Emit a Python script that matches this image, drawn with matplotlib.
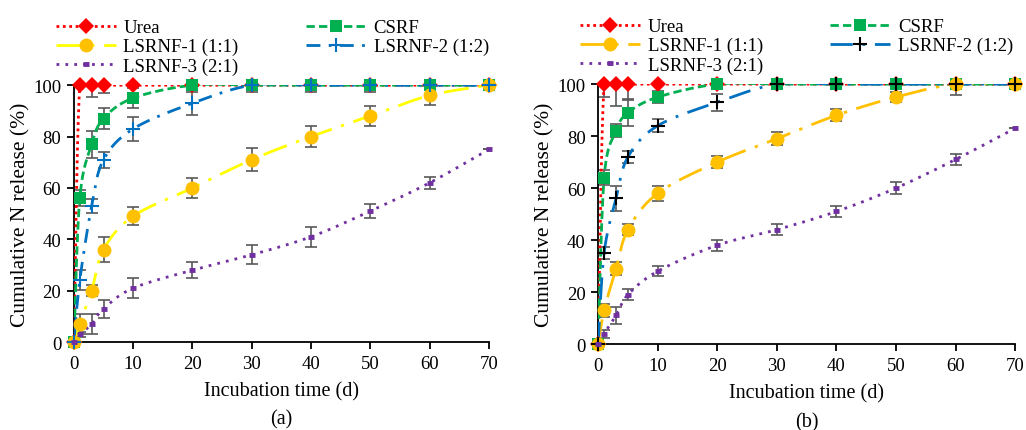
import numpy as np
import matplotlib
matplotlib.use("Agg")
import matplotlib.pyplot as plt
from matplotlib.lines import Line2D

plt.rcParams['font.family'] = ['Liberation Serif', 'DejaVu Serif']

days = [0, 1, 3, 5, 10, 20, 30, 40, 50, 60, 70]

# panel (a)
urea_a = [0, 100, 100, 100, 100, 100, 100, 100, 100, 100, 100]
urea_a_err = [0, 0, 4.6, 3, 0, 0, 0, 0, 0, 0, 0]
csrf_a = [0, 56, 77, 87, 95, 100, 100, 100, 100, 100, 100]
csrf_a_err = [0, 3.2, 5.2, 4.2, 4, 2, 2.5, 2.5, 2.5, 2, 0]
l1_a = [0, 7, 20, 36, 49, 60, 71, 80, 88, 96, 100]
l1_a_err = [0, 4, 2.2, 5, 3.4, 3.8, 4.4, 4.1, 4, 3.8, 0]
l2_a = [0, 24, 53, 71, 83, 93, 100, 100, 100, 100, 100]
l2_a_err = [0, 3.9, 2.6, 3.1, 4.8, 4.5, 2, 2, 2, 2, 0]
l3_a = [0, 3, 7, 13, 21, 28, 34, 41, 51, 62, 75]
l3_a_err = [0, 1, 4, 3.5, 4, 3.2, 3.7, 3.9, 2.6, 2.3, 0]

# panel (b)
urea_b = [0, 100, 100, 100, 100, 100, 100, 100, 100, 100, 100]
urea_b_err = [0, 5, 8.3, 6, 0, 0, 0, 0, 0, 0, 0]
csrf_b = [0, 64, 82, 89, 95, 100, 100, 100, 100, 100, 100]
csrf_b_err = [0, 3, 2.5, 5.1, 2.3, 2, 2, 2, 2, 2, 0]
l1_b = [0, 13, 29, 44, 58, 70, 79, 88, 95, 100, 100]
l1_b_err = [0, 2.5, 2.5, 2.2, 2.9, 2.2, 2.4, 2.3, 2, 4, 0]
l2_b = [0, 35, 56, 72, 84, 93, 100, 100, 100, 100, 100]
l2_b_err = [0, 2.2, 4.8, 2.2, 2.6, 3.2, 2, 2, 2, 2, 0]
l3_b = [0, 4, 11, 19, 28, 38, 44, 51, 60, 71, 83]
l3_b_err = [0, 1.5, 3.2, 2.2, 2, 2.2, 2, 2, 2.3, 2.3, 0]

labels = ["Urea", "CSRF", "LSRNF-1 (1:1)", "LSRNF-2 (1:2)", "LSRNF-3 (2:1)"]


def smooth(x, y, n=30):
    # excel-like smoothed line (catmull-rom bezier)
    p = np.column_stack([x, y]).astype(float)
    p = np.vstack([p[0], p, p[-1]])
    out = []
    t = np.linspace(0, 1, n)[:, None]
    for i in range(1, len(p) - 2):
        p0, p1, p2, p3 = p[i - 1], p[i], p[i + 1], p[i + 2]
        c1 = p1 + (p2 - p0) / 6
        c2 = p2 - (p3 - p1) / 6
        seg = (1 - t) ** 3 * p1 + 3 * (1 - t) ** 2 * t * c1 + 3 * (1 - t) * t ** 2 * c2 + t ** 3 * p2
        out.append(seg)
    out = np.vstack(out)
    return out[:, 0], out[:, 1]


fig = plt.figure(figsize=(10.26, 4.31), dpi=100)
ax_a = fig.add_axes([0.072, 0.204, 0.4045, 0.596])
ax_b = fig.add_axes([0.583, 0.1995, 0.4064, 0.603])

green = "#00B050"
blue = "#0070C0"
purple = "#7030A0"
gold = "#FFC000"


def panel(ax, data, l1_line, l2_marker_col, l2_dash, tag):
    styles = [
        dict(color="red", dashes=(1, 1.3), lw=2.0, marker="D", mfc="red", mec="red", ms=8.5, mew=0),
        dict(color=green, dashes=(3, 1.5), lw=2.0, marker="s", mfc=green, mec=green, ms=9, mew=0),
        dict(color=l1_line, dashes=(9, 3.5, 1.2, 3.5), lw=2.0, marker="o", mfc=gold, mec=gold, ms=10, mew=0),
        dict(color=blue, dashes=l2_dash, lw=2.0, marker="+", mfc=l2_marker_col, mec=l2_marker_col, ms=10, mew=1.5),
        dict(color=purple, dashes=(1, 2.2), lw=2.0, marker="_", mfc=purple, mec=purple, ms=5, mew=3.5),
    ]
    handles = []
    for k, (vals, errs) in enumerate(data):
        st = styles[k]
        sx, sy = smooth(days, vals)
        ax.plot(sx, sy, color=st["color"], lw=st["lw"], dashes=st["dashes"], zorder=3 + k)
        ax.errorbar(days, vals, yerr=errs, fmt="none", ecolor="#595959", elinewidth=1.2,
                    capsize=4, capthick=1.2, zorder=2)
        ax.plot(days, vals, ls="none", marker=st["marker"], mfc=st["mfc"], mec=st["mec"],
                ms=st["ms"], mew=st["mew"], clip_on=False, zorder=8 + k)
        handles.append(Line2D([], [], color=st["color"], lw=st["lw"], dashes=st["dashes"],
                              marker=st["marker"], mfc=st["mfc"], mec=st["mec"],
                              ms=st["ms"], mew=st["mew"]))
    ax.set_xlim(0, 70)
    ax.set_ylim(0, 100)
    ax.set_xticks(range(0, 71, 10))
    ax.set_yticks(range(0, 101, 20))
    for s in ("top", "right"):
        ax.spines[s].set_visible(False)
    for s in ("left", "bottom"):
        ax.spines[s].set_linewidth(1.3)
    ax.tick_params(direction="out", length=5, width=1.3, labelsize=13.5, pad=4)
    ax.set_xlabel("Incubation time (d)", fontsize=14.5, labelpad=7)
    ax.set_ylabel("Cumulative N release (%)", fontsize=15.5, labelpad=2)
    ax.text(0.5, -0.30, tag, transform=ax.transAxes, ha="center", va="center", fontsize=14.5)
    order = [0, 2, 4, 1, 3]
    ax.legend([handles[i] for i in order], [labels[i] for i in order], ncol=2,
              loc="lower left", bbox_to_anchor=(-0.075, 0.99), frameon=False,
              fontsize=13.5, handlelength=3.2, handletextpad=0.4, labelspacing=0.1,
              columnspacing=3.6, borderpad=0.2)


panel(ax_a, [(urea_a, urea_a_err), (csrf_a, csrf_a_err), (l1_a, l1_a_err),
             (l2_a, l2_a_err), (l3_a, l3_a_err)],
      "#FFFF00", blue, (5, 3, 1, 3), "(a)")
panel(ax_b, [(urea_b, urea_b_err), (csrf_b, csrf_b_err), (l1_b, l1_b_err),
             (l2_b, l2_b_err), (l3_b, l3_b_err)],
      gold, "black", (8, 3.5, 1, 3.5), "(b)")

fig.savefig("out.png", dpi=100)
